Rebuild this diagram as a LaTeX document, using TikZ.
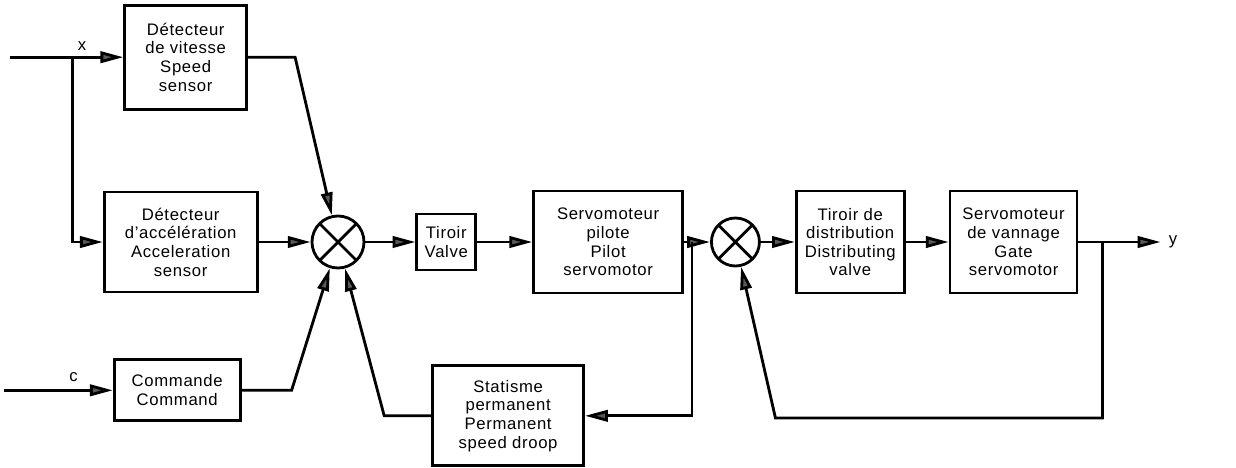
\documentclass[tikz,border=0pt]{standalone}
\usepackage{fontspec}
\setmainfont{Liberation Sans}[LetterSpace=4]
\usetikzlibrary{positioning,arrows.meta}

\begin{document}
\begin{tikzpicture}[node distance=1cm, >={Triangle[length=13pt,width=6.5pt,fill=black!65]}, line width=1.6pt,
    block/.style={draw, align=center, font=\fontsize{9.5}{10.6}\selectfont, inner sep=2pt},
    sum/.style={draw, circle, inner sep=0pt, path picture={\draw (path picture bounding box.north west) -- (path picture bounding box.south east) (path picture bounding box.south west) -- (path picture bounding box.north east);}},
    lab/.style={font=\fontsize{9.5}{10.6}\selectfont, inner sep=1pt}]
    \useasboundingbox (0,0) rectangle (24.72,9.34);
    \node[sum, minimum size=1.04cm] (S1) at (6.76,4.5) {};
    \node[block, minimum width=3.06cm, minimum height=2cm, left=1.04cm of S1] (A) {Détecteur\\d'accélération\\Acceleration\\sensor};
    \node[block, minimum width=2.44cm, minimum height=2.08cm, above=1.6cm of A, xshift=0.1cm] (Sp) {Détecteur\\de vitesse\\Speed\\sensor};
    \node[block, minimum width=2.52cm, minimum height=1.22cm, below=1.3cm of A, xshift=-0.07cm] (C) {Commande\\Command};
    \node[block, minimum width=1.18cm, minimum height=1.12cm, right=1cm of S1] (V) {Tiroir\\Valve};
    \node[block, minimum width=2.98cm, minimum height=2.04cm, right=1.1cm of V] (P) {Servomoteur\\pilote\\Pilot\\servomotor};
    \node[sum, minimum size=0.96cm, right=0.52cm of P] (S2) {};
    \node[block, minimum width=2.16cm, minimum height=2.04cm, right=0.68cm of S2] (T) {Tiroir de\\distribution\\Distributing\\valve};
    \node[block, minimum width=2.54cm, minimum height=2.04cm, right=0.86cm of T] (G) {Servomoteur\\de vannage\\Gate\\servomotor};
    \node[block, minimum width=3.02cm, minimum height=2cm, below=1.4cm of P, xshift=-2cm] (D) {Statisme\\permanent\\Permanent\\speed droop};

    \coordinate[left=2.26cm of Sp.west] (xin);
    \coordinate[left=1.02cm of Sp.west] (xj);
    \coordinate[left=2.18cm of C.west] (cin);
    \coordinate[right=0.16cm of P.east] (pj);
    \coordinate[right=1.64cm of G.east] (yout);
    \coordinate[right=0.48cm of G.east] (gj);
    \coordinate[below=3.52cm of S2.center, xshift=0.8cm] (fb);
    \node[lab, above right=2pt and 0.05cm of xj] (xlab) {x};
    \node[lab, above right=3pt and 1.25cm of cin] (clab) {c};
    \node[lab, right=3pt of yout] (ylab) {y};

    \draw[->] (xin) -- (Sp);
    \draw[->] (xj) |- (A);
    \draw[->] (Sp.east) -- ++(0.94,0) -- (S1);
    \draw[->] (A) -- (S1);
    \draw[->] (cin) -- (C);
    \draw[->] (C.east) -- ++(1,0) -- (S1);
    \draw[->] (S1) -- (V);
    \draw[->] (V) -- (P);
    \draw[->] (P) -- (S2);
    \draw[->] (pj) |- (D);
    \draw[->] (D.west) -- ++(-0.94,0) -- (S1);
    \draw[->] (S2) -- (T);
    \draw[->] (T) -- (G);
    \draw[->] (G) -- (yout);
    \draw[->] (gj) |- (fb) -- (S2);
\end{tikzpicture}
\end{document}
